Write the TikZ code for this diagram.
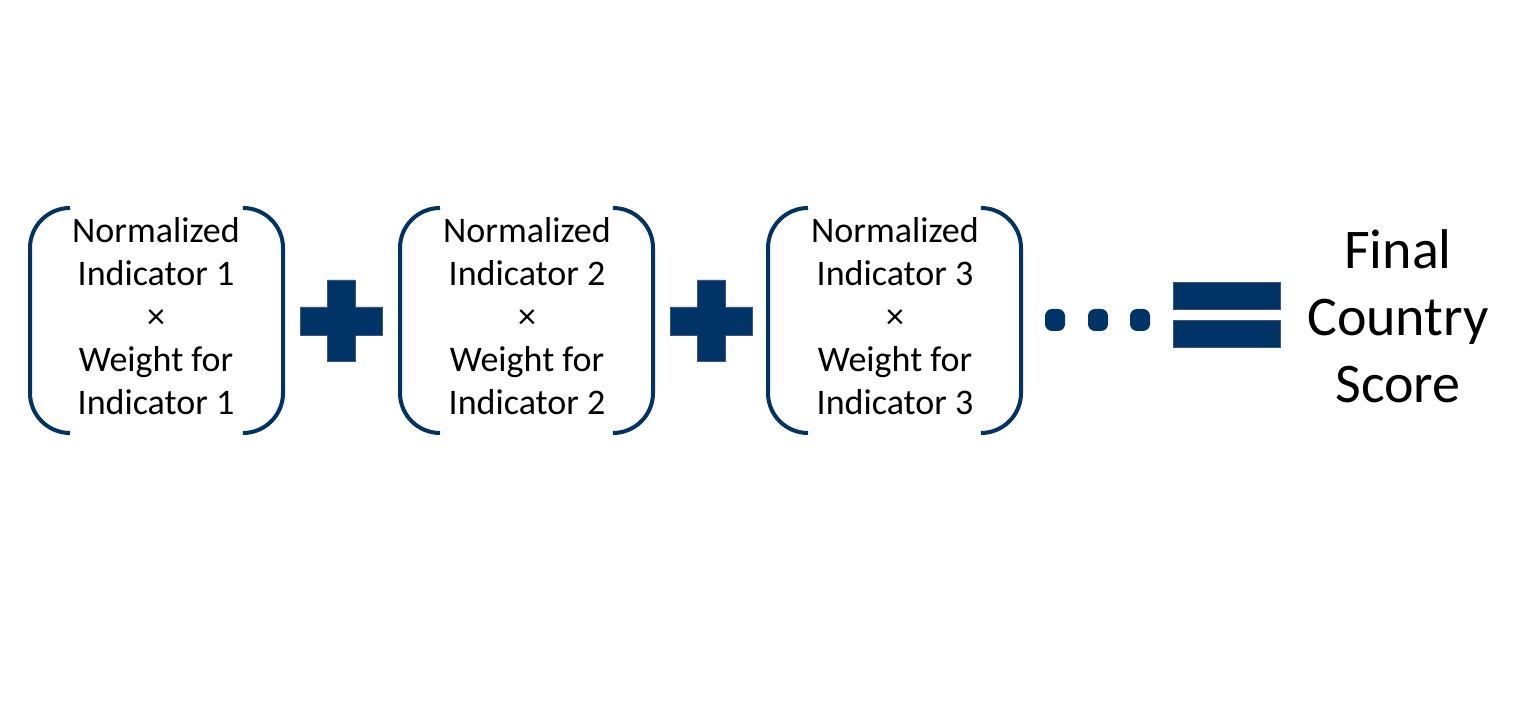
\documentclass[tikz,border=0pt]{standalone}
\usepackage{fontspec}
\setmainfont{Carlito}
\usepackage{xcolor}
\definecolor{navy}{RGB}{0,51,102}
\definecolor{navyedge}{RGB}{60,85,120}
\usetikzlibrary{arrows.meta}

\tikzset{
  term/.style={align=center,font=\fontsize{18}{21.5}\selectfont,inner sep=0pt},
  result/.style={align=center,font=\fontsize{28}{33.5}\selectfont,inner sep=0pt},
  paren/.style={draw=navy,line width=2pt,rounded corners=20pt},
  sign/.style={fill=navy,draw=navyedge,line width=0.4pt}
}

\begin{document}
\begin{tikzpicture}[x=0.5pt,y=-0.5pt]
\useasboundingbox (0,0) rectangle (1521,721);

% terms of the sum
\node[term] (ind1) at (156,316) {Normalized\\Indicator 1\\×\\Weight for\\Indicator 1};
\node[term] (ind2) at (527,316) {Normalized\\Indicator 2\\×\\Weight for\\Indicator 2};
\node[term] (ind3) at (895,316) {Normalized\\Indicator 3\\×\\Weight for\\Indicator 3};
\node[result] (score) at (1398,316) {Final\\Country\\Score};

% brackets
\draw[paren] (70,208) -- (30,208) -- (30,433) -- (70,433);
\draw[paren] (245,208) -- (283,208) -- (283,433) -- (245,433);
\draw[paren] (440,208) -- (400,208) -- (400,433) -- (440,433);
\draw[paren] (615,208) -- (653,208) -- (653,433) -- (615,433);
\draw[paren] (808,208) -- (768,208) -- (768,433) -- (808,433);
\draw[paren] (983,208) -- (1021,208) -- (1021,433) -- (983,433);

% plus signs
\draw[sign] (327,280) -- (355,280) -- (355,307) -- (382,307) -- (382,335) -- (355,335)
  -- (355,361) -- (327,361) -- (327,335) -- (300,335) -- (300,307) -- (327,307) -- cycle;
\draw[sign] (697,280) -- (725,280) -- (725,307) -- (752,307) -- (752,335) -- (725,335)
  -- (725,361) -- (697,361) -- (697,335) -- (670,335) -- (670,307) -- (697,307) -- cycle;

% dots
\fill[navy,rounded corners=3.5pt] (1045,309) rectangle (1065,331);
\fill[navy,rounded corners=3.5pt] (1088,309) rectangle (1108,331);
\fill[navy,rounded corners=3.5pt] (1130,309) rectangle (1150,331);

% equals sign
\draw[sign] (1173,282) rectangle (1280,309);
\draw[sign] (1173,320) rectangle (1280,347);
\end{tikzpicture}
\end{document}
